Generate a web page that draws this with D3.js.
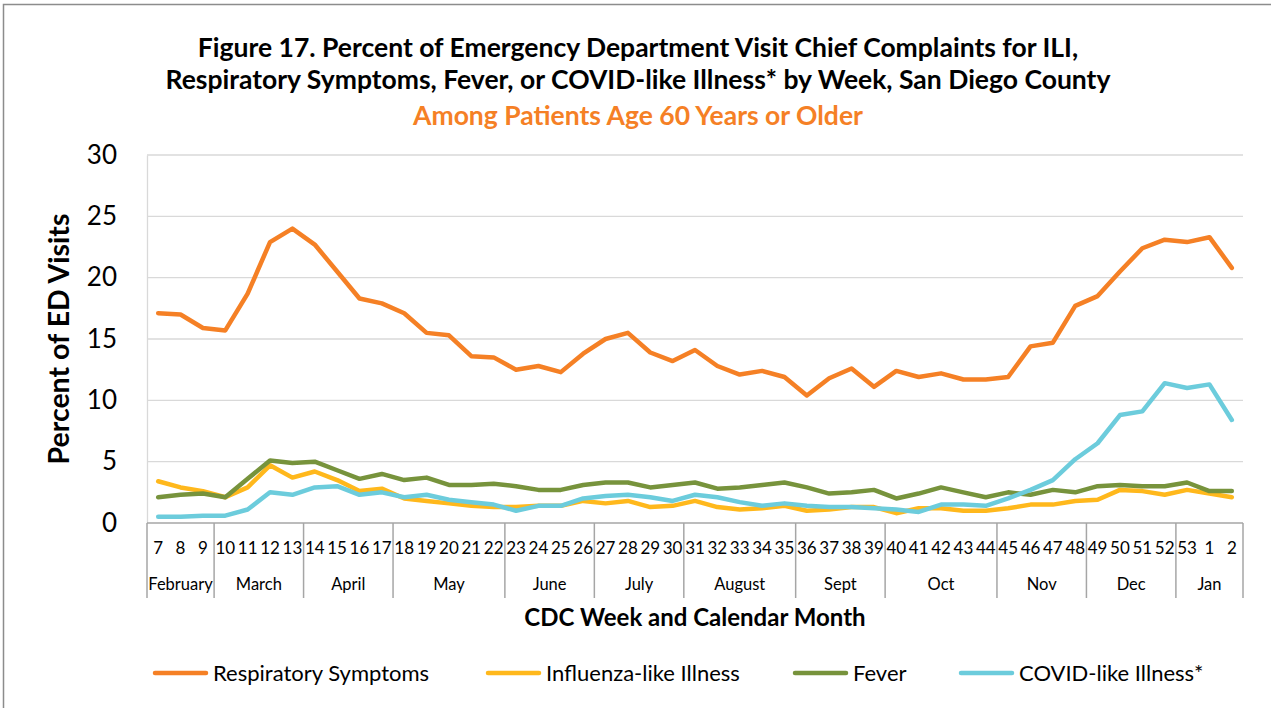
<!DOCTYPE html>
<html>
<head>
<meta charset="utf-8">
<script src="https://cdn.jsdelivr.net/npm/d3@7"></script>
<style>
  body { margin: 0; background: #fff; }
  svg { display: block; font-family: Lato, "Open Sans", sans-serif; }
</style>
</head>
<body>
<svg id="chart" width="1271" height="708"></svg>
<script>
// weeks 7..53 then 1, 2
const weeks = [7,8,9,10,11,12,13,14,15,16,17,18,19,20,21,22,23,24,25,26,27,28,29,30,
  31,32,33,34,35,36,37,38,39,40,41,42,43,44,45,46,47,48,49,50,51,52,53,1,2];

const months = [
  { name: 'February', n: 3 }, { name: 'March', n: 4 }, { name: 'April', n: 4 },
  { name: 'May', n: 5 }, { name: 'June', n: 4 }, { name: 'July', n: 4 },
  { name: 'August', n: 5 }, { name: 'Sept', n: 4 }, { name: 'Oct', n: 5 },
  { name: 'Nov', n: 4 }, { name: 'Dec', n: 4 }, { name: 'Jan', n: 3 }
];

const respiratory = [17.1,17.0,15.9,15.7,18.7,22.9,24.0,22.7,20.5,18.3,17.9,17.1,15.5,15.3,13.6,13.5,
  12.5,12.8,12.3,13.8,15.0,15.5,13.9,13.2,14.1,12.8,12.1,12.4,11.9,10.4,11.8,12.6,11.1,
  12.4,11.9,12.2,11.7,11.7,11.9,14.4,14.7,17.7,18.5,20.5,22.4,23.1,22.9,23.3,20.8];

const ili = [3.4,2.9,2.6,2.1,2.9,4.7,3.7,4.2,3.5,2.6,2.8,2.0,1.8,1.6,1.4,1.3,
  1.3,1.4,1.4,1.8,1.6,1.8,1.3,1.4,1.8,1.3,1.1,1.2,1.4,1.0,1.1,1.3,1.3,
  0.8,1.2,1.2,1.0,1.0,1.2,1.5,1.5,1.8,1.9,2.7,2.6,2.3,2.7,2.4,2.1];

const fever = [2.1,2.3,2.4,2.1,3.6,5.1,4.9,5.0,4.3,3.6,4.0,3.5,3.7,3.1,3.1,3.2,
  3.0,2.7,2.7,3.1,3.3,3.3,2.9,3.1,3.3,2.8,2.9,3.1,3.3,2.9,2.4,2.5,2.7,
  2.0,2.4,2.9,2.5,2.1,2.5,2.3,2.7,2.5,3.0,3.1,3.0,3.0,3.3,2.6,2.6];

const covid = [0.5,0.5,0.6,0.6,1.1,2.5,2.3,2.9,3.0,2.3,2.5,2.1,2.3,1.9,1.7,1.5,
  1.0,1.4,1.4,2.0,2.2,2.3,2.1,1.8,2.3,2.1,1.7,1.4,1.6,1.4,1.3,1.3,1.2,
  1.1,0.9,1.5,1.5,1.4,2.0,2.7,3.5,5.2,6.5,8.8,9.1,11.4,11.0,11.3,8.4];

const series = [
  { name: 'Respiratory Symptoms', values: respiratory, color: '#F58025' },
  { name: 'Influenza-like Illness', values: ili, color: '#FFB81C' },
  { name: 'Fever', values: fever, color: '#77933C' },
  { name: 'COVID-like Illness*', values: covid, color: '#6CCCDC' }
];

const yTicks = [0, 5, 10, 15, 20, 25, 30];

const svg = d3.select('#chart');
const M = { left: 147, right: 1243, top: 155, bottom: 523 };

// outer chart border
svg.append('rect')
  .attr('x', 3.5).attr('y', 4.5).attr('width', 1280).attr('height', 720)
  .attr('fill', 'none').attr('stroke', '#8c8c8c').attr('stroke-width', 1.5);

const x = d3.scaleBand().domain(d3.range(weeks.length)).range([M.left, M.right]);
const y = d3.scaleLinear().domain([0, 30]).range([M.bottom, M.top]);
const cx = i => x(i) + x.bandwidth() / 2;

// gridlines
svg.append('g')
  .selectAll('line')
  .data(yTicks.filter(t => t > 0))
  .join('line')
  .attr('x1', M.left).attr('x2', M.right)
  .attr('y1', d => y(d)).attr('y2', d => y(d))
  .attr('stroke', '#d9d9d9').attr('stroke-width', 1.3);

// y axis
const yAxis = svg.append('g')
  .attr('transform', `translate(${M.left},0)`)
  .call(d3.axisLeft(y).tickValues(yTicks).tickSize(0).tickPadding(30));
yAxis.select('.domain').attr('stroke', '#d9d9d9').attr('stroke-width', 1.3);
yAxis.selectAll('text')
  .attr('font-size', 26).attr('fill', '#000')
  .style('font-family', 'Lato, sans-serif');

svg.append('text')
  .attr('transform', `translate(69,${(M.top + M.bottom) / 2}) rotate(-90)`)
  .attr('text-anchor', 'middle')
  .attr('font-size', 28.5).attr('font-weight', 'bold')
  .text('Percent of ED Visits');

// x axis: week row + month row
const xg = svg.append('g');
xg.append('line')
  .attr('x1', M.left).attr('x2', M.right)
  .attr('y1', M.bottom).attr('y2', M.bottom)
  .attr('stroke', '#a6a6a6').attr('stroke-width', 1.5);

xg.selectAll('text.week')
  .data(weeks)
  .join('text')
  .attr('class', 'week')
  .attr('x', (d, i) => cx(i))
  .attr('y', 554)
  .attr('text-anchor', 'middle')
  .attr('font-size', 17)
  .text(d => d);

let start = 0;
const monthPos = months.map(m => {
  const o = { name: m.name, s: start, e: start + m.n };
  start += m.n;
  return o;
});
const edgeX = i => (i >= weeks.length ? M.right : x(i));

xg.selectAll('line.sep')
  .data([0].concat(monthPos.map(m => m.e)))
  .join('line')
  .attr('class', 'sep')
  .attr('x1', d => edgeX(d)).attr('x2', d => edgeX(d))
  .attr('y1', M.bottom).attr('y2', 598)
  .attr('stroke', '#a6a6a6').attr('stroke-width', 1.5);

xg.selectAll('text.month')
  .data(monthPos)
  .join('text')
  .attr('class', 'month')
  .attr('x', d => (edgeX(d.s) + edgeX(d.e)) / 2)
  .attr('y', 590)
  .attr('text-anchor', 'middle')
  .attr('font-size', 16.5)
  .text(d => d.name);

svg.append('text')
  .attr('x', (M.left + M.right) / 2).attr('y', 626)
  .attr('text-anchor', 'middle')
  .attr('font-size', 24).attr('font-weight', 'bold')
  .text('CDC Week and Calendar Month');

// lines
const line = d3.line().x((d, i) => cx(i)).y(d => y(d));
svg.append('g')
  .selectAll('path')
  .data(series)
  .join('path')
  .attr('d', s => line(s.values))
  .attr('fill', 'none')
  .attr('stroke', s => s.color)
  .attr('stroke-width', 4.5)
  .attr('stroke-linejoin', 'round')
  .attr('stroke-linecap', 'round');

// titles
const title = [
  { t: 'Figure 17. Percent of Emergency Department Visit Chief Complaints for ILI,', y: 57, c: '#000' },
  { t: 'Respiratory Symptoms, Fever, or COVID-like Illness* by Week, San Diego County', y: 89, c: '#000' },
  { t: 'Among Patients Age 60 Years or Older', y: 125, c: '#F58025' }
];
svg.append('g')
  .selectAll('text')
  .data(title)
  .join('text')
  .attr('x', 638).attr('y', d => d.y)
  .attr('text-anchor', 'middle')
  .attr('font-size', 26.5).attr('font-weight', 'bold')
  .attr('fill', d => d.c)
  .text(d => d.t);

// legend
const legendX = [155, 488, 795, 961];
const lg = svg.append('g')
  .selectAll('g')
  .data(series)
  .join('g')
  .attr('transform', (d, i) => `translate(${legendX[i]},673)`);
lg.append('line')
  .attr('x1', 0).attr('x2', 51).attr('y1', 0).attr('y2', 0)
  .attr('stroke', d => d.color).attr('stroke-width', 4.5)
  .attr('stroke-linecap', 'round');
lg.append('text')
  .attr('x', 58).attr('y', 8)
  .attr('font-size', 22)
  .text(d => d.name);
</script>
</body>
</html>
